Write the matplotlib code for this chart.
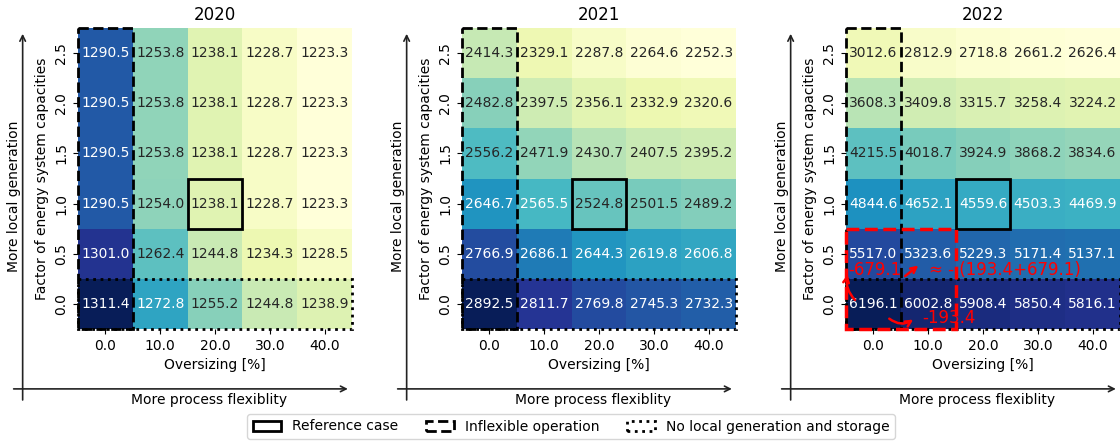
import numpy as np
import matplotlib
matplotlib.use('Agg')
import matplotlib.pyplot as plt
import matplotlib.patches as mpatches
import seaborn as sns

years = ['2020', '2021', '2022']
oversizing = ['0.0', '10.0', '20.0', '30.0', '40.0']
factors = ['2.5', '2.0', '1.5', '1.0', '0.5', '0.0']

costs_2020 = [
    [1290.5, 1253.8, 1238.1, 1228.7, 1223.3],
    [1290.5, 1253.8, 1238.1, 1228.7, 1223.3],
    [1290.5, 1253.8, 1238.1, 1228.7, 1223.3],
    [1290.5, 1254.0, 1238.1, 1228.7, 1223.3],
    [1301.0, 1262.4, 1244.8, 1234.3, 1228.5],
    [1311.4, 1272.8, 1255.2, 1244.8, 1238.9],
]
costs_2021 = [
    [2414.3, 2329.1, 2287.8, 2264.6, 2252.3],
    [2482.8, 2397.5, 2356.1, 2332.9, 2320.6],
    [2556.2, 2471.9, 2430.7, 2407.5, 2395.2],
    [2646.7, 2565.5, 2524.8, 2501.5, 2489.2],
    [2766.9, 2686.1, 2644.3, 2619.8, 2606.8],
    [2892.5, 2811.7, 2769.8, 2745.3, 2732.3],
]
costs_2022 = [
    [3012.6, 2812.9, 2718.8, 2661.2, 2626.4],
    [3608.3, 3409.8, 3315.7, 3258.4, 3224.2],
    [4215.5, 4018.7, 3924.9, 3868.2, 3834.6],
    [4844.6, 4652.1, 4559.6, 4503.3, 4469.9],
    [5517.0, 5323.6, 5229.3, 5171.4, 5137.1],
    [6196.1, 6002.8, 5908.4, 5850.4, 5816.1],
]


def drawPanel(ax, data, title):
    sns.heatmap(np.array(data), ax=ax, cmap='YlGnBu', annot=True, fmt='.1f',
                cbar=False, xticklabels=oversizing, yticklabels=factors,
                annot_kws={'fontsize': 10})
    ax.set_title(title, fontsize=12)
    ax.set_xlabel('Oversizing [%]', fontsize=10)
    ax.set_ylabel('Factor of energy system capacities', fontsize=10)
    ax.set_yticklabels(factors, rotation=90, va='center')
    ax.set_xticklabels(oversizing, rotation=0)

    nrows = len(factors)
    ncols = len(oversizing)
    # reference case, inflexible operation, no local generation
    ax.add_patch(mpatches.Rectangle((2, 3), 1, 1, fill=False, edgecolor='black', lw=2, clip_on=False))
    ax.add_patch(mpatches.Rectangle((0, 0), 1, nrows, fill=False, edgecolor='black', lw=2, ls='--', clip_on=False))
    ax.add_patch(mpatches.Rectangle((0, nrows - 1), ncols, 1, fill=False, edgecolor='black', lw=2, ls=':', clip_on=False))

    # direction arrows outside the axes
    ax.annotate('', xy=(-0.202, 0.99), xytext=(-0.202, -0.245), xycoords='axes fraction',
                arrowprops=dict(arrowstyle='->', color='#222222', lw=1.2), annotation_clip=False)
    ax.annotate('', xy=(0.995, -0.199), xytext=(-0.245, -0.199), xycoords='axes fraction',
                arrowprops=dict(arrowstyle='->', color='#222222', lw=1.2), annotation_clip=False)
    ax.text(0.48, -0.236, 'More process flexiblity', transform=ax.transAxes,
            ha='center', va='center', fontsize=10)
    ax.text(-0.232, 0.44, 'More local generation', transform=ax.transAxes,
            ha='center', va='center', rotation=90, fontsize=10)


def main():
    fig = plt.figure(figsize=(11.2, 4.46), dpi=100)
    lefts = [78, 462, 846]
    allData = [costs_2020, costs_2021, costs_2022]
    axes = []
    for i in range(3):
        ax = fig.add_axes([lefts[i] / 1120, 117 / 446, 274 / 1120, 301 / 446])
        drawPanel(ax, allData[i], years[i])
        axes.append(ax)

    # savings annotation in 2022
    ax = axes[2]
    ax.add_patch(mpatches.Rectangle((0, 4), 2, 2, fill=False, edgecolor='red', lw=2.5, ls='--', clip_on=False))
    ax.text(0.05, 4.82, '-679.1', color='red', fontsize=12, ha='left', va='center')
    ax.text(1.51, 4.82, '≈ - (193.4+679.1)', color='red', fontsize=12, ha='left', va='center')
    ax.text(1.39, 5.78, '-193.4', color='red', fontsize=12, ha='left', va='center')
    ax.annotate('', xy=(0.04, 4.86), xytext=(0.2, 5.46),
                arrowprops=dict(arrowstyle='->', color='red', lw=1.8, connectionstyle='arc3,rad=-0.3'))
    ax.annotate('', xy=(1.36, 4.7), xytext=(1.04, 4.98),
                arrowprops=dict(arrowstyle='->', color='red', lw=1.8))
    ax.annotate('', xy=(1.27, 5.78), xytext=(0.75, 5.76),
                arrowprops=dict(arrowstyle='->', color='red', lw=1.8, connectionstyle='arc3,rad=0.4'))

    handles = [
        mpatches.Patch(facecolor='white', edgecolor='black', lw=2, ls='-'),
        mpatches.Patch(facecolor='white', edgecolor='black', lw=2, ls='--'),
        mpatches.Patch(facecolor='white', edgecolor='black', lw=2, ls=':'),
    ]
    labels = ['Reference case', 'Inflexible operation', 'No local generation and storage']
    fig.legend(handles, labels, loc='lower center', ncol=3, bbox_to_anchor=(0.51, 0.0),
               fontsize=10)

    fig.savefig('out.png', dpi=100)


if __name__ == "__main__":
    main()
